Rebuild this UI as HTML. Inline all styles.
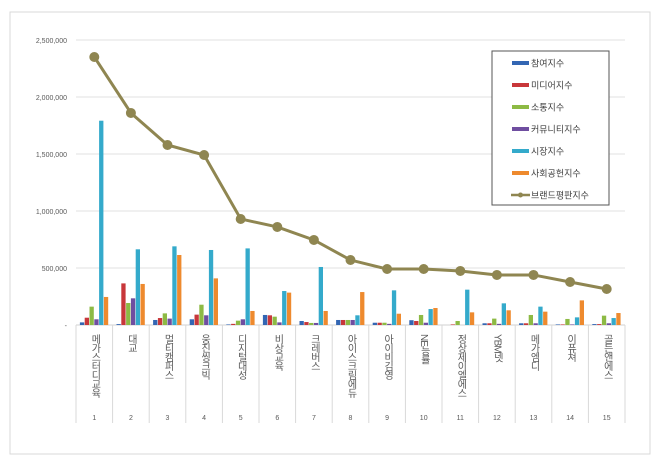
<!DOCTYPE html>
<html><head><meta charset="utf-8"><style>
body{margin:0;background:#fff;font-family:"Liberation Sans","Noto Sans CJK KR",sans-serif}
svg text{font-family:"Liberation Sans","Noto Sans CJK KR",sans-serif}
</style></head><body>
<svg id="c" width="660" height="463" xmlns="http://www.w3.org/2000/svg"></svg>
<script>
const categories=["메가스터디교육","대교","멀티캠퍼스","웅진씽크빅","디지털대성","비상교육","크레버스","아이스크림에듀","아이비김영","NE능률","정상제이엘에스","YBM넷","메가엠디","이퓨쳐","골든앤에스"];
const participation=[23000,8000,44000,50000,5000,88000,35000,44000,20000,42000,0,15000,15000,5000,8000];
const media=[64000,365000,61000,91000,10000,85000,26000,44000,20000,35000,5000,15000,15000,5000,8000];
const communication=[161000,193000,102000,178000,38000,73000,18000,44000,20000,88000,35000,56000,88000,53000,82000];
const community=[50000,234000,56000,85000,50000,23000,18000,44000,10000,20000,0,10000,15000,5000,15000];
const market=[1792000,664000,690000,658000,672000,298000,509000,85000,304000,140000,310000,190000,161000,67000,61000];
const social=[246000,360000,614000,409000,123000,284000,123000,289000,99000,149000,111000,129000,117000,216000,105000];
const brandIndex=[2351000,1860000,1579000,1491000,930000,860000,746000,570000,491000,491000,474000,439000,439000,377000,316000];
const yTicks=[0,500000,1000000,1500000,2000000,2500000];
const yTickLabels=["-","500,000","1,000,000","1,500,000","2,000,000","2,500,000"];
const seriesNames=["참여지수","미디어지수","소통지수","커뮤니티지수","시장지수","사회공헌지수"];
const seriesKeys=["participation","media","communication","community","market","social"];

const svg=document.getElementById('c');const NS="http://www.w3.org/2000/svg";
function el(t,a,p){const e=document.createElementNS(NS,t);for(const k in a)e.setAttribute(k,a[k]);(p||svg).appendChild(e);return e;}
const X0=76,X1=625,Y0=325,YT=40,YMAX=2500000;
const cw=(X1-X0)/categories.length;
const y=v=>Y0-(v/YMAX)*(Y0-YT);
const xc=i=>X0+cw*(i+0.5);
const colors=["#3366b3","#c8373a","#8dba44","#6f4ea0","#34aacb","#ee8a2e"];
const lineColor="#8f8651";
const seriesData=[participation,media,communication,community,market,social];

let r=el('rect',{x:10,y:12,width:640,height:442,fill:'none',stroke:'#d9d9d9'});


yTicks.forEach((t,i)=>{
  if(t>0){let g=el('line',{x1:X0,x2:X1,y1:y(t),y2:y(t),stroke:'#e0e0e0'});
  }
  let tx=el('text',{x:67,y:y(t)+3,'font-size':7,fill:'#595959','text-anchor':'end'});tx.textContent=yTickLabels[i];
  
});
let ax=el('line',{x1:X0,x2:X1,y1:Y0,y2:Y0,stroke:'#d0d0d0'});

for(let i=0;i<=categories.length;i++){
  let l=el('line',{x1:X0+cw*i,x2:X0+cw*i,y1:Y0,y2:423,stroke:'#d9d9d9'});
  
}
const bw=4.3;
categories.forEach((c,i)=>{
  seriesData.forEach((s,k)=>{
    const bx=xc(i)-3*bw-1.5+k*(bw+0.5);
    let b=el('rect',{x:bx,y:y(s[i]),width:bw,height:Y0-y(s[i]),fill:colors[k]});
    
  });
  let t=el('text',{x:xc(i),y:334,'font-size':10,fill:'#595959','writing-mode':'vertical-rl','text-orientation':'upright','letter-spacing':'-1'});
  t.textContent=c;
  let n=el('text',{x:xc(i),y:420,'font-size':7,fill:'#595959','text-anchor':'middle'});
  n.textContent=String(i+1);
});
let pts=brandIndex.map((v,i)=>xc(i)+','+y(v)).join(' ');
let pl=el('polyline',{points:pts,fill:'none',stroke:lineColor,'stroke-width':3});

brandIndex.forEach((v,i)=>{
  let p=el('circle',{cx:xc(i),cy:y(v),r:5,fill:lineColor});
  
});
let lg=el('rect',{x:492,y:51,width:117,height:154,fill:'#fff',stroke:'#555'});

seriesNames.forEach((nm,k)=>{
  const ly=63+k*22;
  let s=el('rect',{x:512,y:ly-2,width:17,height:4,fill:colors[k]});
  
  let t=el('text',{x:531,y:ly+3.5,'font-size':9,fill:'#404040'});t.textContent=nm;
  
});
const ly=195;
let ll=el('line',{x1:511,x2:530,y1:ly,y2:ly,stroke:lineColor,'stroke-width':2.5});

let lc=el('circle',{cx:520.5,cy:ly,r:2.5,fill:lineColor});

let lt=el('text',{x:531,y:ly+3.5,'font-size':9,fill:'#404040'});lt.textContent="브랜드평판지수";

</script>
</body></html>
